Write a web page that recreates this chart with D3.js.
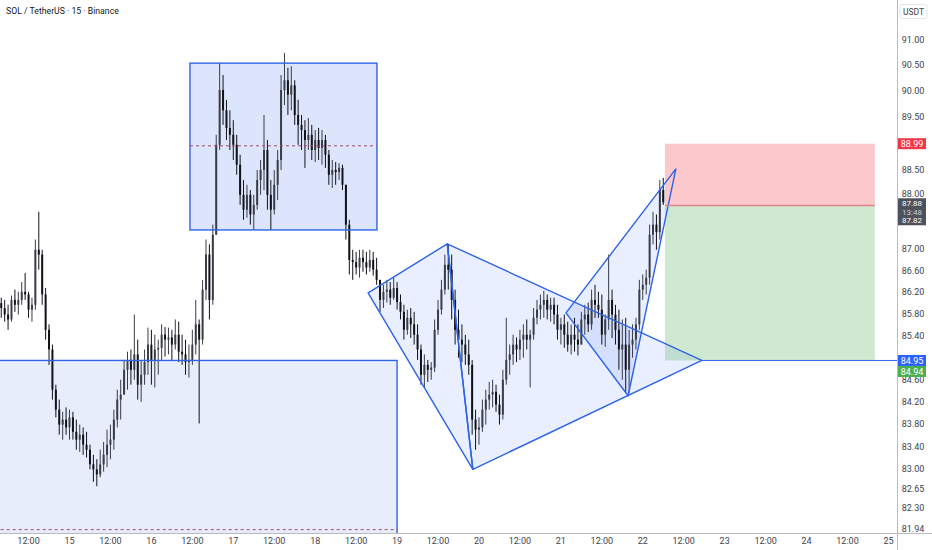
<!DOCTYPE html>
<html>
<head>
<meta charset="utf-8">
<script src="https://cdn.jsdelivr.net/npm/d3@7"></script>
<style>
  html, body { margin: 0; padding: 0; background: #fff; }
  svg { display: block; font-family: Roboto, "Liberation Sans", sans-serif; }
</style>
</head>
<body>
<script>
const W = 932, H = 550;
const plotW = 897, plotH = 533;

// hourly bars, first one opens 14th 04:00
const firstBar = Date.UTC(2025, 0, 14, 4);
const firstOpen = 86.00;

const highs = [
  86.10, 86.06, 85.97, 86.14, 86.25, 86.21, 86.39, 86.56, 86.21, 86.10,
  87.18, 87.70, 86.99, 86.28, 85.61, 85.24, 84.51, 84.24, 84.02, 84.10,
  84.06, 84.02, 83.88, 83.79, 83.74, 83.66, 83.43, 83.25, 83.17, 83.34,
  83.48, 83.70, 83.79, 84.06, 84.42, 84.60, 84.96, 85.11, 85.15, 85.79,
  85.33, 84.96, 85.15, 85.55, 85.51, 85.42, 85.33, 85.61, 85.56, 85.55,
  85.51, 85.70, 85.66, 85.42, 85.33, 85.24, 85.51, 86.06, 85.70, 86.43,
  87.18, 87.09, 87.46, 89.16, 90.54, 90.31, 89.83, 89.63, 89.44, 89.16,
  88.78, 88.30, 88.21, 88.11, 88.02, 88.49, 88.68, 89.54, 89.06, 88.30,
  88.49, 88.87, 90.31, 90.74, 90.45, 90.48, 90.21, 89.83, 89.54, 89.44,
  89.48, 89.35, 89.25, 89.29, 89.25, 89.16, 88.87, 88.68, 88.64, 88.62,
  88.59, 88.21, 87.55, 86.99, 86.95, 86.99, 86.99, 86.95, 86.99, 86.95,
  86.84, 86.43, 86.34, 86.43, 86.39, 86.47, 86.39, 86.16, 85.97, 85.88,
  85.91, 85.84, 85.61, 85.24, 85.06, 84.96, 84.92, 85.70, 86.06, 86.43,
  86.90, 87.09, 86.90, 86.25, 85.88, 85.61, 85.42, 85.33, 84.96, 84.06,
  83.92, 84.24, 84.42, 84.56, 84.60, 84.51, 84.33, 84.78, 85.73, 85.24,
  85.42, 85.37, 85.51, 85.61, 85.70, 85.51, 85.91, 86.06, 86.16, 86.23,
  86.16, 86.10, 86.10, 85.97, 85.73, 85.79, 85.66, 85.61, 85.73, 85.61,
  85.84, 85.97, 86.01, 86.25, 86.34, 86.21, 86.16, 85.79, 86.90, 86.25,
  85.97, 85.88, 85.70, 85.73, 85.51, 85.61, 85.73, 86.43, 86.53, 86.62,
  87.46, 87.70, 87.65, 88.30, 88.34
];

const lows = [
  85.73, 85.66, 85.51, 85.66, 85.84, 85.79, 85.97, 86.06, 85.73, 85.66,
  85.88, 86.62, 85.97, 85.33, 84.87, 84.24, 83.92, 83.61, 83.52, 83.61,
  83.52, 83.52, 83.34, 83.30, 83.25, 83.20, 82.99, 82.77, 82.69, 82.85,
  82.95, 83.03, 83.17, 83.34, 83.74, 83.88, 84.33, 84.42, 84.51, 84.60,
  84.24, 84.20, 84.51, 84.69, 84.51, 84.46, 84.69, 84.96, 85.02, 85.06,
  84.96, 85.15, 84.92, 84.87, 84.69, 84.64, 84.87, 85.06, 83.81, 85.24,
  86.06, 85.70, 85.97, 87.27, 88.87, 89.35, 89.06, 88.87, 88.68, 88.40,
  87.83, 87.55, 87.59, 87.46, 87.36, 87.74, 88.02, 88.11, 87.74, 87.36,
  87.65, 87.92, 88.49, 89.73, 89.54, 89.63, 89.35, 88.97, 88.87, 88.53,
  88.87, 88.68, 88.64, 88.68, 88.59, 88.53, 88.21, 88.15, 88.21, 88.30,
  88.11, 87.18, 86.53, 86.43, 86.53, 86.47, 86.58, 86.53, 86.58, 86.51,
  86.34, 85.84, 85.91, 86.01, 85.97, 86.06, 85.88, 85.70, 85.33, 85.42,
  85.36, 85.24, 84.96, 84.51, 84.46, 84.56, 84.60, 84.74, 85.42, 85.79,
  86.16, 86.25, 85.70, 85.24, 85.00, 84.92, 84.87, 84.69, 83.61, 83.34,
  83.43, 83.66, 83.79, 84.06, 84.10, 84.02, 83.79, 83.88, 84.51, 84.69,
  84.87, 84.92, 84.96, 85.00, 85.15, 84.46, 85.33, 85.61, 85.70, 85.73,
  85.70, 85.66, 85.61, 85.33, 85.24, 85.18, 85.11, 85.06, 85.11, 85.04,
  85.24, 85.42, 85.47, 85.51, 85.73, 85.73, 85.24, 85.20, 85.51, 85.36,
  85.24, 84.78, 84.60, 84.37, 84.37, 85.00, 85.15, 85.51, 86.06, 86.16,
  86.34, 87.09, 86.99, 87.18, 87.83
];

const closes = [
  85.91, 85.79, 85.70, 86.06, 85.97, 86.06, 86.21, 86.16, 85.88, 85.97,
  86.99, 86.90, 86.16, 85.51, 85.15, 84.42, 84.06, 83.79, 83.88, 83.74,
  83.92, 83.66, 83.52, 83.61, 83.43, 83.34, 83.08, 82.99, 82.90, 83.08,
  83.25, 83.43, 83.52, 83.88, 84.24, 84.33, 84.78, 84.96, 84.78, 85.06,
  84.51, 84.69, 84.92, 85.24, 84.96, 85.15, 85.18, 85.42, 85.33, 85.37,
  85.24, 85.42, 85.11, 85.06, 84.92, 84.96, 85.24, 85.61, 85.33, 86.25,
  86.90, 86.06, 87.27, 88.97, 90.02, 89.63, 89.29, 89.16, 88.97, 88.59,
  88.02, 87.74, 88.02, 87.65, 87.83, 88.30, 88.49, 88.87, 88.02, 87.74,
  88.21, 88.68, 90.02, 90.21, 89.93, 90.11, 89.54, 89.35, 89.25, 89.06,
  89.16, 88.87, 89.06, 88.91, 89.06, 88.78, 88.40, 88.49, 88.45, 88.53,
  88.21, 87.46, 86.80, 86.76, 86.66, 86.84, 86.76, 86.66, 86.80, 86.62,
  86.43, 86.06, 86.21, 86.25, 86.10, 86.28, 86.02, 85.84, 85.51, 85.73,
  85.61, 85.42, 85.15, 84.69, 84.87, 84.78, 84.82, 85.51, 85.88, 86.25,
  86.71, 86.62, 86.06, 85.51, 85.33, 85.24, 85.06, 84.87, 83.88, 83.70,
  83.74, 84.06, 84.24, 84.33, 84.38, 84.15, 83.97, 84.60, 84.96, 85.06,
  85.24, 85.15, 85.33, 85.42, 85.33, 85.42, 85.73, 85.88, 85.97, 86.06,
  85.88, 85.97, 85.79, 85.51, 85.61, 85.42, 85.24, 85.42, 85.33, 85.24,
  85.70, 85.79, 85.61, 86.06, 85.97, 85.88, 85.42, 85.70, 86.06, 85.79,
  85.51, 85.15, 85.24, 84.78, 85.24, 85.33, 85.61, 86.25, 86.34, 86.47,
  87.27, 87.46, 87.32, 88.11, 87.88
];

// price-scale labels that are visible (others sit under the badges)
const yTicks = [91.00, 90.50, 90.00, 89.50, 88.50, 88.00, 87.00, 86.60,
  86.20, 85.80, 85.40, 84.60, 84.20, 83.80, 83.40, 83.00, 82.65, 82.30, 81.94];

// drawings: [time, price]
const upperBox = [[Date.UTC(2025, 0, 16, 11, 18), 90.54], [Date.UTC(2025, 0, 18, 18, 6), 87.36]];
const lowerBox = [[Date.UTC(2025, 0, 13, 12), 84.95], [Date.UTC(2025, 0, 19, 0), 78.90]];
const patternA = [
  [Date.UTC(2025, 0, 18, 15, 30), 86.19],
  [Date.UTC(2025, 0, 19, 14, 42), 87.10],
  [Date.UTC(2025, 0, 19, 22, 12), 82.99],
  [Date.UTC(2025, 0, 22, 17, 18), 84.95]
];
const patternB = [
  [Date.UTC(2025, 0, 21, 1, 30), 85.82],
  [Date.UTC(2025, 0, 22, 9, 42), 88.51],
  [Date.UTC(2025, 0, 21, 19, 42), 84.31]
];
const position = { t0: Date.UTC(2025, 0, 22, 6, 30), t1: Date.UTC(2025, 0, 24, 20, 0), stop: 88.99, entry: 87.82, target: 84.95 };
const lastPrice = 87.88;

const x = d3.scaleUtc()
  .domain([Date.UTC(2025, 0, 14, 3, 38), Date.UTC(2025, 0, 25, 2, 30)])
  .range([0, plotW]);
const y = d3.scaleLog()
  .domain([83, 91])
  .range([468.8, 39.5]);

const bars = closes.map(function (c, i) {
  const o = i ? closes[i - 1] : firstOpen;
  return { t: firstBar + i * 3600e3, o: o, c: c,
    h: Math.max(highs[i], o, c), l: Math.min(lows[i], o, c) };
});

const svg = d3.select("body").append("svg")
  .attr("width", W).attr("height", H);

svg.append("rect").attr("width", W).attr("height", H).attr("fill", "#fff");

svg.append("clipPath").attr("id", "plot")
  .append("rect").attr("width", plotW).attr("height", plotH);

const plot = svg.append("g").attr("clip-path", "url(#plot)");
const blue = "#2f63e6";

// fills under the candles
plot.append("rect")
  .attr("x", x(lowerBox[0][0])).attr("y", y(lowerBox[0][1]))
  .attr("width", x(lowerBox[1][0]) - x(lowerBox[0][0]))
  .attr("height", y(lowerBox[1][1]) - y(lowerBox[0][1]))
  .attr("fill", "#e8edfc");
plot.append("rect")
  .attr("x", x(upperBox[0][0])).attr("y", y(upperBox[0][1]))
  .attr("width", x(upperBox[1][0]) - x(upperBox[0][0]))
  .attr("height", y(upperBox[1][1]) - y(upperBox[0][1]))
  .attr("fill", "#dce5fb");

const pt = function (p) { return [x(p[0]), y(p[1])]; };
const tris = [
  [patternA[0], patternA[1], patternA[2]],
  [patternA[1], patternA[3], patternA[2]],
  [patternB[0], patternB[1], patternB[2]]
];
plot.selectAll("polygon.tri").data(tris).enter().append("polygon")
  .attr("class", "tri")
  .attr("points", function (d) { return d.map(pt).join(" "); })
  .attr("fill", "rgba(41,98,255,0.10)");

// risk / reward boxes
plot.append("rect")
  .attr("x", x(position.t0)).attr("y", y(position.stop))
  .attr("width", x(position.t1) - x(position.t0))
  .attr("height", y(position.entry) - y(position.stop))
  .attr("fill", "#fbc8cc");
plot.append("rect")
  .attr("x", x(position.t0)).attr("y", y(position.entry))
  .attr("width", x(position.t1) - x(position.t0))
  .attr("height", y(position.target) - y(position.entry))
  .attr("fill", "rgba(76,175,80,0.27)");

// candles
const bw = (x(3600e3) - x(0)) * 0.58;
const cg = plot.append("g");
cg.selectAll("line").data(bars).enter().append("line")
  .attr("x1", function (d) { return x(d.t); })
  .attr("x2", function (d) { return x(d.t); })
  .attr("y1", function (d) { return y(d.h); })
  .attr("y2", function (d) { return y(d.l); })
  .attr("stroke", function (d) { return d.c >= d.o ? "#3a3d46" : "#111318"; })
  .attr("stroke-width", 1);
cg.selectAll("rect").data(bars).enter().append("rect")
  .attr("x", function (d) { return x(d.t) - bw / 2; })
  .attr("y", function (d) { return y(Math.max(d.o, d.c)); })
  .attr("width", bw)
  .attr("height", function (d) { return Math.max(1, Math.abs(y(d.o) - y(d.c))); })
  .attr("fill", function (d) { return d.c >= d.o ? "#3a3d46" : "#111318"; });

// outlines
plot.append("rect")
  .attr("x", x(lowerBox[0][0])).attr("y", y(lowerBox[0][1]))
  .attr("width", x(lowerBox[1][0]) - x(lowerBox[0][0]))
  .attr("height", y(lowerBox[1][1]) - y(lowerBox[0][1]))
  .attr("fill", "none").attr("stroke", blue).attr("stroke-width", 1.4);
plot.append("rect")
  .attr("x", x(upperBox[0][0])).attr("y", y(upperBox[0][1]))
  .attr("width", x(upperBox[1][0]) - x(upperBox[0][0]))
  .attr("height", y(upperBox[1][1]) - y(upperBox[0][1]))
  .attr("fill", "none").attr("stroke", blue).attr("stroke-width", 1.4);

[[upperBox, (upperBox[0][1] + upperBox[1][1]) / 2], [lowerBox, (lowerBox[0][1] + lowerBox[1][1]) / 2]]
  .forEach(function (m) {
    plot.append("line")
      .attr("x1", x(m[0][0][0])).attr("x2", x(m[0][1][0]))
      .attr("y1", y(m[1])).attr("y2", y(m[1]))
      .attr("stroke", "#a0486a").attr("stroke-width", 1)
      .attr("stroke-dasharray", "3,3");
  });

plot.selectAll("polygon.edge").data(tris).enter().append("polygon")
  .attr("class", "edge")
  .attr("points", function (d) { return d.map(pt).join(" "); })
  .attr("fill", "none").attr("stroke", blue).attr("stroke-width", 1.4)
  .attr("stroke-linejoin", "round");

// horizontal ray at the pattern target
plot.append("line")
  .attr("x1", x(patternA[3][0])).attr("x2", plotW)
  .attr("y1", y(patternA[3][1])).attr("y2", y(patternA[3][1]))
  .attr("stroke", blue).attr("stroke-width", 1);

plot.append("line")
  .attr("x1", x(position.t0)).attr("x2", x(position.t1))
  .attr("y1", y(position.entry)).attr("y2", y(position.entry))
  .attr("stroke", "#e3838d").attr("stroke-width", 1.5);

// axes frame
svg.append("line").attr("x1", plotW + 0.5).attr("x2", plotW + 0.5)
  .attr("y1", 0).attr("y2", H).attr("stroke", "#b8bbc4");
svg.append("line").attr("x1", 0).attr("x2", W)
  .attr("y1", plotH + 0.5).attr("y2", plotH + 0.5).attr("stroke", "#b8bbc4");

// price labels (88.00 is nudged up a little, it sits just above the last-price badge)
svg.append("g").selectAll("text").data(yTicks).enter().append("text")
  .attr("x", 913).attr("y", function (d) { return y(d) - (d === 88 ? 2 : 0); })
  .attr("dy", "0.35em").attr("text-anchor", "middle")
  .attr("font-size", 9).attr("fill", "#3f434c")
  .text(function (d) { return d.toFixed(2); });

// time labels
const xTicks = d3.utcHour.every(12).range(x.domain()[0], x.domain()[1]);
svg.append("g").selectAll("text").data(xTicks).enter().append("text")
  .attr("x", function (d) { return x(d); }).attr("y", 541)
  .attr("dy", "0.35em").attr("text-anchor", "middle")
  .attr("font-size", 9).attr("fill", "#3f434c")
  .text(function (d) { return d.getUTCHours() === 0 ? d3.utcFormat("%-d")(d) : "12:00"; });

// axis badges
function badge(price, fill, label, dy) {
  const yy = y(price) + (dy || 0);
  svg.append("rect").attr("x", 898).attr("y", yy - 5.5).attr("width", 28).attr("height", 11)
    .attr("fill", fill);
  svg.append("text").attr("x", 912).attr("y", yy).attr("dy", "0.35em")
    .attr("text-anchor", "middle").attr("font-size", 9).attr("fill", "#fff").text(label);
}
badge(position.stop, "#f23645", position.stop.toFixed(2));
badge(position.target, "#2962ff", position.target.toFixed(2));
badge(position.target - 0.01, "#4caf50", (position.target - 0.01).toFixed(2), 10.5);

const ly = y(lastPrice);
svg.append("rect").attr("x", 898).attr("y", ly - 4).attr("width", 28).attr("height", 27)
  .attr("fill", "#4e525c");
[[lastPrice.toFixed(2), "#fff", 1.5], ["13:48", "#c9ccd3", 9.8], [position.entry.toFixed(2), "#fff", 18]]
  .forEach(function (r) {
    svg.append("text").attr("x", 912).attr("y", ly + r[2]).attr("dy", "0.32em")
      .attr("text-anchor", "middle").attr("font-size", 8).attr("fill", r[1]).text(r[0]);
  });

// currency tag and title
svg.append("rect").attr("x", 900).attr("y", 4.5).attr("width", 27).attr("height", 14)
  .attr("rx", 2).attr("fill", "#fff").attr("stroke", "#e3e5ea");
svg.append("text").attr("x", 913.5).attr("y", 12).attr("dy", "0.35em")
  .attr("text-anchor", "middle").attr("font-size", 8.5).attr("fill", "#3f434c").text("USDT");
svg.append("text").attr("x", 6).attr("y", 11).attr("dy", "0.35em")
  .attr("font-size", 8.7).attr("fill", "#131722").text("SOL / TetherUS · 15 · Binance");
</script>
</body>
</html>
